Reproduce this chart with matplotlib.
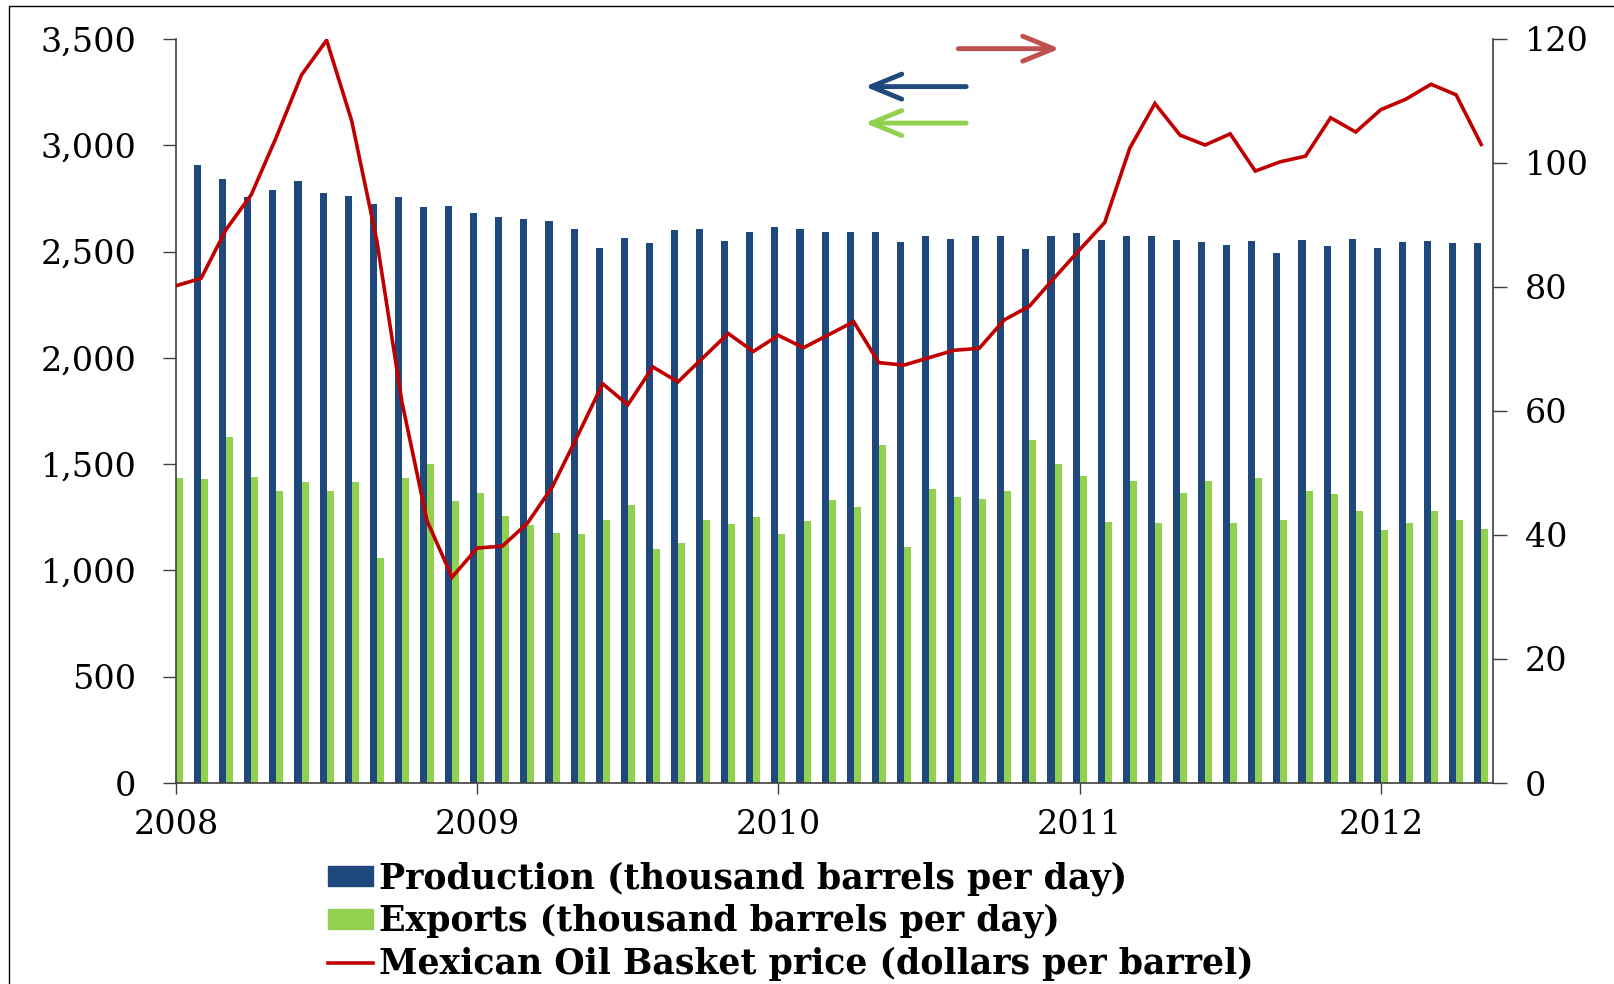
import matplotlib
matplotlib.use('Agg')
import matplotlib.pyplot as plt
from matplotlib.patches import Patch, Rectangle
from matplotlib.lines import Line2D
import numpy as np

# monthly data, Jan 2008 - May 2012
production = [2900, 2906, 2840, 2755, 2790, 2832, 2777, 2760, 2724, 2755, 2710, 2715,
              2683, 2661, 2654, 2644, 2608, 2517, 2562, 2540, 2600, 2604, 2552, 2594,
              2616, 2608, 2594, 2594, 2594, 2544, 2572, 2558, 2572, 2571, 2512, 2571,
              2586, 2555, 2571, 2571, 2555, 2545, 2532, 2549, 2491, 2555, 2525, 2560,
              2517, 2545, 2549, 2540, 2540]
exports = [1435, 1430, 1626, 1439, 1374, 1416, 1374, 1416, 1057, 1435, 1500, 1326,
           1366, 1254, 1213, 1177, 1173, 1236, 1309, 1101, 1131, 1236, 1220, 1249,
           1172, 1232, 1331, 1299, 1588, 1109, 1384, 1346, 1335, 1373, 1615, 1500,
           1442, 1230, 1423, 1222, 1366, 1423, 1222, 1436, 1239, 1373, 1360, 1278,
           1189, 1224, 1278, 1239, 1193]
price = [80.2, 81.4, 89.3, 94.9, 104.2, 114.2, 119.8, 106.8, 87.5, 61.5, 42.3, 33.2,
         37.9, 38.2, 41.9, 47.8, 56.0, 64.4, 61.0, 67.1, 64.7, 68.6, 72.5, 69.6,
         72.2, 70.2, 72.3, 74.4, 67.8, 67.4, 68.6, 69.8, 70.1, 74.7, 76.9, 81.5,
         86.0, 90.4, 102.4, 109.6, 104.5, 102.9, 104.7, 98.7, 100.2, 101.1, 107.3, 105.0,
         108.6, 110.3, 112.7, 111.0, 103.0]
years = ['2008', '2009', '2010', '2011', '2012']

labels = ['Production (thousand barrels per day)',
          'Exports (thousand barrels per day)',
          'Mexican Oil Basket price (dollars per barrel)']

blue = '#1F497D'
green = '#92D050'
red = '#C00000'
axis_col = '#404040'

plt.rcParams['font.family'] = ['DejaVu Serif']

W, H = 1615, 984
fig = plt.figure(figsize=(W / 100, H / 100), dpi=100)
ax = fig.add_axes([176 / W, 1 - 783 / H, (1493 - 176) / W, (783 - 39) / H])

x = np.arange(len(production))
ax.bar(x, production, width=-0.28, align='edge', color=blue, zorder=2)
ax.bar(x, exports, width=0.28, align='edge', color=green, zorder=2)

ax2 = ax.twinx()
ax2.plot(x, price, color=red, lw=2.6, solid_joinstyle='miter')

ax.set_xlim(0, 52.47)
ax.set_ylim(0, 3500)
ax2.set_ylim(0, 120)

ax.set_yticks(range(0, 3501, 500))
ax.set_yticklabels(['{:,}'.format(v) for v in range(0, 3501, 500)])
ax2.set_yticks(range(0, 121, 20))
ax.set_xticks(range(0, 49, 12))
ax.set_xticklabels(years)

for a in (ax, ax2):
    a.spines['top'].set_visible(False)
    for s in a.spines.values():
        s.set_color(axis_col)
        s.set_linewidth(1.2)
ax.spines['right'].set_visible(False)
ax2.spines['left'].set_visible(False)
ax2.spines['bottom'].set_visible(False)

ax.tick_params(axis='y', direction='out', length=9.5, width=1, color=axis_col,
               labelsize=24, pad=19)
ax.tick_params(axis='x', direction='out', length=8, width=1, color=axis_col,
               labelsize=24, pad=11)
ax2.tick_params(axis='y', direction='out', length=10, width=1, color=axis_col,
                labelsize=24, pad=13)

# direction arrows
arrow = dict(arrowstyle='->,head_length=1.1,head_width=0.45', lw=3.5,
             mutation_scale=20, shrinkA=0, shrinkB=0)
ax2.annotate('', xy=(0.671, 0.987), xytext=(0.594, 0.987), xycoords='axes fraction',
             arrowprops=dict(arrow, color='#C0504D'))
ax2.annotate('', xy=(0.523, 0.936), xytext=(0.600, 0.936), xycoords='axes fraction',
             arrowprops=dict(arrow, color=blue))
ax2.annotate('', xy=(0.523, 0.887), xytext=(0.600, 0.887), xycoords='axes fraction',
             arrowprops=dict(arrow, color=green))

handles = [Patch(color=blue), Patch(color=green), Line2D([], [], color=red, lw=2.6)]
fig.legend(handles, labels, loc='upper left', bbox_to_anchor=(328 / W, 1 - 861 / H),
           frameon=False, prop=dict(family='DejaVu Serif', weight='bold', size=25),
           handlelength=1.3, handleheight=0.52, handletextpad=0.18,
           labelspacing=0.24, borderpad=0, borderaxespad=0)

fig.add_artist(Rectangle((9 / W, -0.1), 1.2, 1.1 - 6 / H, transform=fig.transFigure,
                         fill=False, ec='black', lw=1))

fig.savefig('out.png', dpi=100)
